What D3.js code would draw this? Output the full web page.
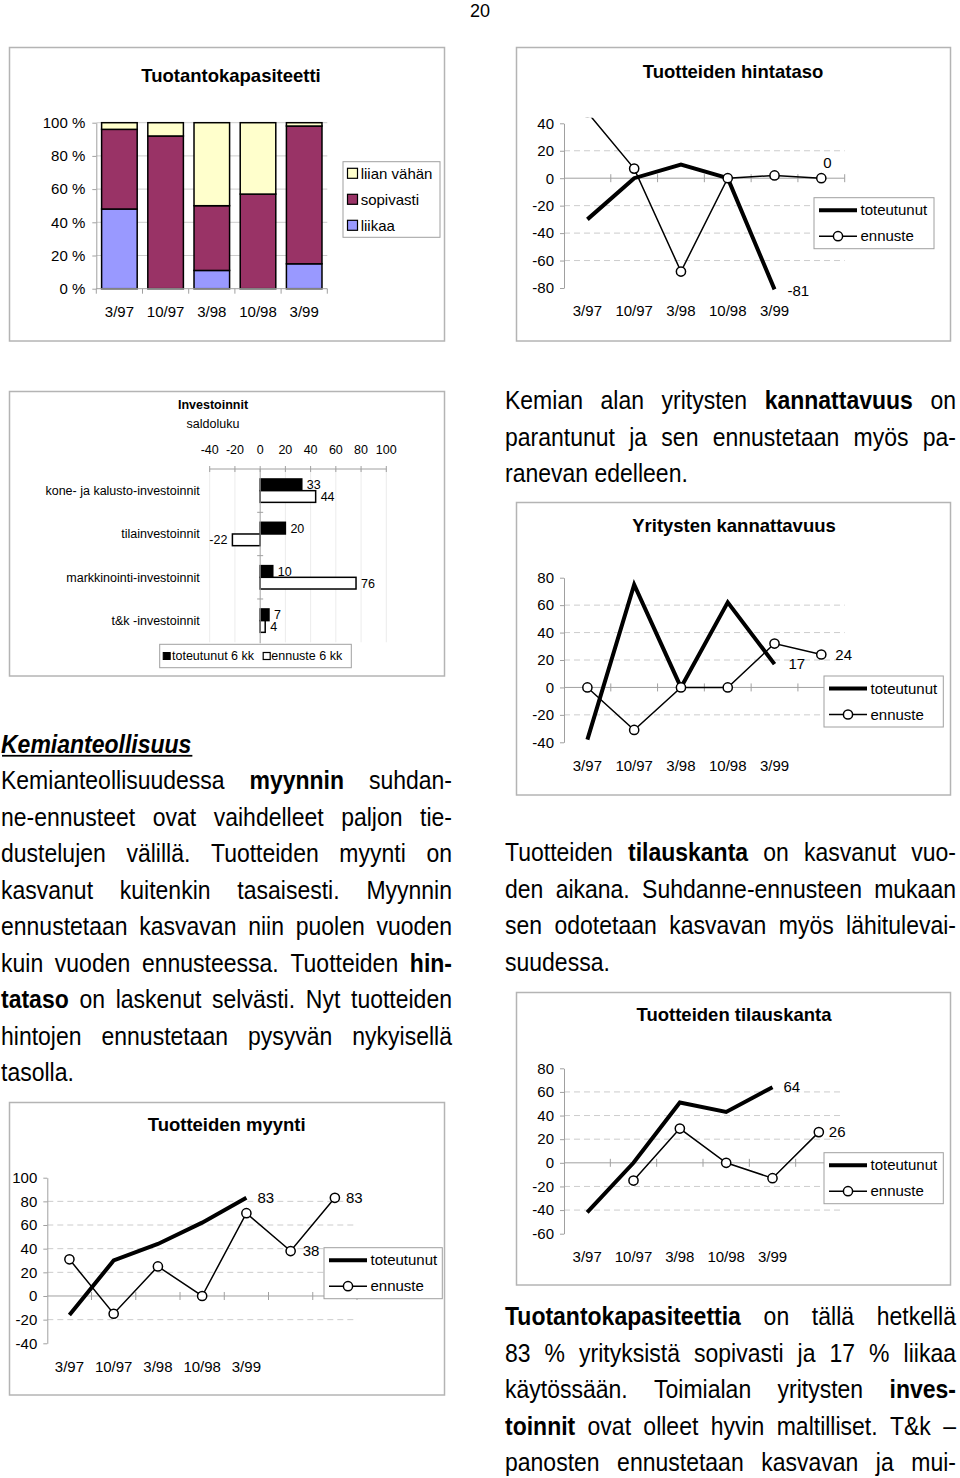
<!DOCTYPE html>
<html><head><meta charset="utf-8">
<script src="https://cdn.jsdelivr.net/npm/d3@7"></script>
<style>
html,body{margin:0;padding:0;background:#fff;}
svg{display:block;font-family:"Liberation Sans",Arial,Helvetica,sans-serif;}
</style></head>
<body><svg id="page" width="960" height="1478"></svg>
<script>
// ================= DATA =================
const pageNumber = "20";
const periods = ["3/97","10/97","3/98","10/98","3/99"];

// Tuotantokapasiteetti (%)
const capKeys = ["liikaa","sopivasti","liian vähän"];
const capLiikaa     = [48, 0, 11, 0, 15];
const capSopivasti  = [48, 92, 39, 57, 83];
const capLiianVahan = [4, 8, 50, 43, 2];
const capTicks = [0,20,40,60,80,100];

// Tuotteiden hintataso
const hintaToteutunut = [-30, 0, 10, 0, -81, null];
const hintaEnnuste    = [48, 7, -68, 0, 2, 0];
const hintaTicks = [40,20,0,-20,-40,-60,-80];

// Yritysten kannattavuus
const kannToteutunut = [-38, 75, 0, 62, 17, null];
const kannEnnuste    = [0, -31, 0, 0, 32, 24];
const kannTicks = [80,60,40,20,0,-20,-40];

// Tuotteiden myynti
const myyntiToteutunut = [-16, 30, 44, 62, 83, null, null];
const myyntiEnnuste    = [31, -15, 25, 0, 70, 38, 83];
const myyntiTicks = [100,80,60,40,20,0,-20,-40];

// Tuotteiden tilauskanta
const tilausToteutunut = [-42, 0, 51, 43, 64, null];
const tilausEnnuste    = [null, -15, 29, 0, -13, 26];
const tilausTicks = [80,60,40,20,0,-20,-40,-60];

// Investoinnit (saldoluku)
const invCategories = ["kone- ja kalusto-investoinnit","tilainvestoinnit","markkinointi-investoinnit","t&k -investoinnit"];
const invToteutunut = [33, 20, 10, 7];
const invEnnuste    = [44, -22, 76, 4];
const invTicks = [-40,-20,0,20,40,60,80,100];

// Body text
const headingLeft = "Kemianteollisuus";
const paraLeft = [
 "Kemianteollisuudessa *myynnin suhdan-",
 "ne-ennusteet ovat vaihdelleet paljon tie-",
 "dustelujen välillä. Tuotteiden myynti on",
 "kasvanut kuitenkin tasaisesti. Myynnin",
 "ennustetaan kasvavan niin puolen vuoden",
 "kuin vuoden ennusteessa. Tuotteiden *hin-",
 "*tataso on laskenut selvästi. Nyt tuotteiden",
 "hintojen ennustetaan pysyvän nykyisellä",
 "tasolla."
];
const paraKann = [
 "Kemian alan yritysten *kannattavuus on",
 "parantunut ja sen ennustetaan myös pa-",
 "ranevan edelleen."
];
const paraTilaus = [
 "Tuotteiden *tilauskanta on kasvanut vuo-",
 "den aikana. Suhdanne-ennusteen mukaan",
 "sen odotetaan kasvavan myös lähitulevai-",
 "suudessa."
];
const paraKap = [
 "*Tuotantokapasiteettia on tällä hetkellä",
 "83 % yrityksistä sopivasti ja 17 % liikaa",
 "käytössään. Toimialan yritysten *inves-",
 "*toinnit ovat olleet hyvin maltilliset. T&k –",
 "panosten ennustetaan kasvavan ja mui-"
];

// ================= DRAWING =================
const svg = d3.select("#page");
svg.append("rect").attr("width",960).attr("height",1478).attr("fill","#fff");
const BORDER = "#b4b4b4", AXIS = "#a0a0a0", GRID = "#cccccc";

svg.append("text").attr("x",480).attr("y",17).attr("text-anchor","middle")
  .attr("font-size",18).text(pageNumber);

function frame(g, b){
  g.append("rect").attr("x",b[0]).attr("y",b[1]).attr("width",b[2]).attr("height",b[3])
    .attr("fill","#fff").attr("stroke",BORDER).attr("stroke-width",1.5);
}
function styleAxis(a, dx, fs){
  a.attr("font-family",null).attr("font-size",null);
  a.select(".domain").attr("stroke",AXIS);
  a.selectAll(".tick line").attr("stroke",AXIS);
  a.selectAll(".tick text").attr("x",dx).attr("font-size",fs).attr("fill","#000");
}

// ---------- stacked bar chart ----------
(function(){
  const g = svg.append("g");
  frame(g,[9.5,47.5,435,293.5]);
  g.append("text").attr("x",231).attr("y",81.5).attr("text-anchor","middle")
    .attr("font-weight","bold").attr("font-size",18.5).text("Tuotantokapasiteetti");
  const table = periods.map((p,i)=>({cat:p, "liikaa":capLiikaa[i], "sopivasti":capSopivasti[i], "liian vähän":capLiianVahan[i]}));
  const x = d3.scaleBand().domain(periods).range([96.3,327.3]).paddingInner(0.23).paddingOuter(0.115);
  const y = d3.scaleLinear().domain([0,100]).range([288.7,122.7]);
  const color = d3.scaleOrdinal().domain(capKeys).range(["#9999ff","#993366","#ffffcc"]);
  g.selectAll(".grid").data(capTicks.filter(t=>t>0)).join("line")
    .attr("x1",96.3).attr("x2",327.3).attr("y1",d=>y(d)).attr("y2",d=>y(d))
    .attr("stroke",GRID).attr("stroke-width",1);
  const ya = g.append("g").attr("transform","translate(96.3,0)")
    .call(d3.axisLeft(y).tickValues(capTicks).tickSize(4).tickSizeOuter(0).tickFormat(d=>d+" %"));
  styleAxis(ya,-11,15);
  const stack = d3.stack().keys(capKeys)(table);
  g.selectAll(".ser").data(stack).join("g").attr("fill",d=>color(d.key))
    .selectAll("rect").data(d=>d).join("rect")
    .attr("x",d=>x(d.data.cat)).attr("width",x.bandwidth())
    .attr("y",d=>y(d[1])).attr("height",d=>y(d[0])-y(d[1]))
    .attr("stroke","#000").attr("stroke-width",1.5)
    .style("display",d=>d[1]-d[0]>0?null:"none");
  g.append("line").attr("x1",96.3).attr("x2",327.3).attr("y1",y(0)).attr("y2",y(0)).attr("stroke",AXIS);
  g.selectAll(".xt").data(d3.range(periods.length+1)).join("line")
    .attr("x1",i=>96.3+i*x.step()).attr("x2",i=>96.3+i*x.step())
    .attr("y1",y(0)).attr("y2",y(0)+5).attr("stroke",AXIS);
  g.selectAll(".xl").data(periods).join("text")
    .attr("x",d=>x(d)+x.bandwidth()/2).attr("y",311.7).attr("dy","0.35em")
    .attr("text-anchor","middle").attr("font-size",15).text(d=>d);
  // legend
  const L = [343,161.7,97,75.6];
  g.append("rect").attr("x",L[0]).attr("y",L[1]).attr("width",L[2]).attr("height",L[3])
    .attr("fill","#fff").attr("stroke",AXIS);
  const order = capKeys.slice().reverse();
  order.forEach((k,i)=>{
    const cy = L[1]+11.6+i*26;
    g.append("rect").attr("x",L[0]+4.5).attr("y",cy-5).attr("width",10).attr("height",10)
      .attr("fill",color(k)).attr("stroke","#000").attr("stroke-width",1.2);
    g.append("text").attr("x",L[0]+17.7).attr("y",cy).attr("dy","0.35em").attr("font-size",15).text(k);
  });
})();

// ---------- line charts ----------
let clipId = 0;
function lineChart(c){
  const g = svg.append("g");
  frame(g,c.box);
  g.append("text").attr("x",c.titleX).attr("y",c.titleY).attr("dy","0.35em").attr("text-anchor","middle")
    .attr("font-weight","bold").attr("font-size",18.5).text(c.title);
  const n = c.tot.length;
  const x = d3.scaleBand().domain(d3.range(n)).range([c.axisX,c.plotRight]);
  const y = d3.scaleLinear().domain(c.yDomain).range(c.yRange);
  const cx = i => x(i)+x.bandwidth()/2;
  const [ymin,ymax] = c.yDomain;
  g.selectAll(".grid").data(c.ticks.filter(t=>t!==0&&t!==ymin&&t!==ymax)).join("line")
    .attr("x1",c.axisX).attr("x2",c.plotRight).attr("y1",d=>y(d)).attr("y2",d=>y(d))
    .attr("stroke",GRID).attr("stroke-dasharray","6,4");
  const ya = g.append("g").attr("transform",`translate(${c.axisX},0)`)
    .call(d3.axisLeft(y).tickValues(c.ticks).tickSize(4).tickSizeOuter(0).tickFormat(d=>String(d)));
  styleAxis(ya,-10,15);
  g.append("line").attr("x1",c.axisX).attr("x2",c.plotRight).attr("y1",y(0)).attr("y2",y(0)).attr("stroke",AXIS);
  g.selectAll(".xt").data(d3.range(1,n+1)).join("line")
    .attr("x1",i=>c.axisX+i*x.step()).attr("x2",i=>c.axisX+i*x.step())
    .attr("y1",y(0)-4).attr("y2",y(0)+4).attr("stroke",AXIS);
  g.selectAll(".xl").data(periods).join("text")
    .attr("x",(d,i)=>cx(i)).attr("y",c.yRange[0]+23).attr("dy","0.35em")
    .attr("text-anchor","middle").attr("font-size",15).text(d=>d);
  const id = "clip"+(clipId++);
  const clipTop = y(c.clipMax!==undefined?c.clipMax:ymax+10);
  g.append("clipPath").attr("id",id).append("rect")
    .attr("x",c.axisX-10).attr("y",clipTop).attr("width",c.plotRight-c.axisX+40).attr("height",c.yRange[0]-clipTop+20);
  const pg = g.append("g").attr("clip-path",`url(#${id})`);
  const line = d3.line().defined(d=>d!=null).x((d,i)=>cx(i)).y(d=>y(d));
  pg.append("path").datum(c.tot).attr("d",line).attr("fill","none")
    .attr("stroke","#000").attr("stroke-width",4).attr("stroke-linejoin","miter");
  pg.append("path").datum(c.enn).attr("d",line).attr("fill","none")
    .attr("stroke","#000").attr("stroke-width",1.5);
  pg.selectAll("circle").data(c.enn.map((v,i)=>({v,i})).filter(d=>d.v!=null)).join("circle")
    .attr("cx",d=>cx(d.i)).attr("cy",d=>y(d.v)).attr("r",4.6)
    .attr("fill","#fff").attr("stroke","#000").attr("stroke-width",1.5);
  c.valueLabels.forEach(l=>{
    const v = (l.s==="tot"?c.tot:c.enn)[l.i];
    g.append("text").attr("x",cx(l.i)+l.dx).attr("y",y(v)+l.dy).attr("dy","0.35em")
      .attr("font-size",15).text(v);
  });
  const L = c.legend;
  g.append("rect").attr("x",L[0]).attr("y",L[1]).attr("width",L[2]).attr("height",51)
    .attr("fill","#fff").attr("stroke",AXIS);
  const y1 = L[1]+12.5, y2 = L[1]+38.5;
  g.append("line").attr("x1",L[0]+5).attr("x2",L[0]+43).attr("y1",y1).attr("y2",y1).attr("stroke","#000").attr("stroke-width",4);
  g.append("line").attr("x1",L[0]+5).attr("x2",L[0]+43).attr("y1",y2).attr("y2",y2).attr("stroke","#000").attr("stroke-width",1.5);
  g.append("circle").attr("cx",L[0]+24).attr("cy",y2).attr("r",4.6).attr("fill","#fff").attr("stroke","#000").attr("stroke-width",1.5);
  g.append("text").attr("x",L[0]+46.5).attr("y",y1).attr("dy","0.35em").attr("font-size",15).text("toteutunut");
  g.append("text").attr("x",L[0]+46.5).attr("y",y2).attr("dy","0.35em").attr("font-size",15).text("ennuste");
}

lineChart({box:[516.5,47.5,434,293.5], title:"Tuotteiden hintataso", titleX:733, titleY:72,
  axisX:564, plotRight:844.7, yDomain:[-80,40], yRange:[288,123.3], ticks:hintaTicks, clipMax:44,
  tot:hintaToteutunut, enn:hintaEnnuste,
  valueLabels:[{s:"tot",i:4,dx:13,dy:1},{s:"enn",i:5,dx:2,dy:-15}],
  legend:[814,197.7,120]});

lineChart({box:[516.5,502.5,434,292.5], title:"Yritysten kannattavuus", titleX:734, titleY:526,
  axisX:564, plotRight:844.7, yDomain:[-40,80], yRange:[742.3,577.7], ticks:kannTicks,
  tot:kannToteutunut, enn:kannEnnuste,
  valueLabels:[{s:"tot",i:4,dx:14,dy:0},{s:"enn",i:5,dx:14,dy:0}],
  legend:[824,676,119.3]});

lineChart({box:[9.5,1102.5,435,292.5], title:"Tuotteiden myynti", titleX:226.7, titleY:1125,
  axisX:47.3, plotRight:357, yDomain:[-40,100], yRange:[1343.3,1177.7], ticks:myyntiTicks,
  tot:myyntiToteutunut, enn:myyntiEnnuste,
  valueLabels:[{s:"tot",i:4,dx:11,dy:0},{s:"enn",i:5,dx:12,dy:0},{s:"enn",i:6,dx:11,dy:0}],
  legend:[324,1247.7,118.3]});

lineChart({box:[516.5,992.5,434,292.5], title:"Tuotteiden tilauskanta", titleX:734, titleY:1015,
  axisX:564, plotRight:842, yDomain:[-60,80], yRange:[1233.7,1068.3], ticks:tilausTicks,
  tot:tilausToteutunut, enn:tilausEnnuste,
  valueLabels:[{s:"tot",i:4,dx:11,dy:0},{s:"enn",i:5,dx:10,dy:0}],
  legend:[824,1152.7,119.3]});

// ---------- Investoinnit horizontal bars ----------
(function(){
  const g = svg.append("g");
  frame(g,[9.5,391.5,435,284.5]);
  g.append("text").attr("x",213).attr("y",405).attr("dy","0.35em").attr("text-anchor","middle")
    .attr("font-weight","bold").attr("font-size",12.5).text("Investoinnit");
  g.append("text").attr("x",213).attr("y",423.3).attr("dy","0.35em").attr("text-anchor","middle")
    .attr("font-size",12.5).text("saldoluku");
  const x = d3.scaleLinear().domain([-40,100]).range([209.7,386.3]);
  const y = d3.scaleBand().domain(invCategories).range([469,642.3]).paddingInner(0.46).paddingOuter(0.23);
  const full = d3.scaleBand().domain(invCategories).range([469,642.3]);
  const sub = d3.scaleBand().domain(["tot","enn"]).range([0,y.bandwidth()]);
  g.selectAll(".vg").data(invTicks.filter(t=>t!==0)).join("line")
    .attr("x1",d=>x(d)).attr("x2",d=>x(d)).attr("y1",469).attr("y2",642.3)
    .attr("stroke","#ececec");
  g.append("line").attr("x1",x(-40)).attr("x2",x(100)).attr("y1",469).attr("y2",469).attr("stroke",AXIS);
  g.selectAll(".xt").data(invTicks).join("line")
    .attr("x1",d=>x(d)).attr("x2",d=>x(d)).attr("y1",466).attr("y2",472).attr("stroke",AXIS);
  g.selectAll(".xl").data(invTicks).join("text")
    .attr("x",d=>x(d)).attr("y",450).attr("dy","0.35em").attr("text-anchor","middle")
    .attr("font-size",12.5).text(d=>String(d));
  g.selectAll(".cl").data(invCategories).join("text")
    .attr("x",199.7).attr("y",d=>full(d)+full.bandwidth()/2).attr("dy","0.35em")
    .attr("text-anchor","end").attr("font-size",12.5).text(d=>d);
  const rows = invCategories.map((c,i)=>({c, tot:invToteutunut[i], enn:invEnnuste[i]}));
  rows.forEach(r=>{
    ["tot","enn"].forEach(s=>{
      const v = r[s];
      const yy = y(r.c)+sub(s);
      g.append("rect").attr("x",x(Math.min(0,v))).attr("width",Math.abs(x(v)-x(0)))
        .attr("y",yy).attr("height",sub.bandwidth())
        .attr("fill",s==="tot"?"#000":"#fff").attr("stroke","#000").attr("stroke-width",1.5);
      g.append("text").attr("x",v>=0?x(v)+5:x(v)-5).attr("y",yy+sub.bandwidth()/2).attr("dy","0.35em")
        .attr("text-anchor",v>=0?"start":"end").attr("font-size",12.5).text(v);
    });
  });
  g.append("line").attr("x1",x(0)).attr("x2",x(0)).attr("y1",469).attr("y2",643.3).attr("stroke",AXIS);
  g.selectAll(".yt").data(d3.range(1,invCategories.length)).join("line")
    .attr("x1",x(0)-3).attr("x2",x(0)+3)
    .attr("y1",i=>469+i*full.step()).attr("y2",i=>469+i*full.step()).attr("stroke",AXIS);
  const L=[159.7,644.3,191.6,23.4];
  g.append("rect").attr("x",L[0]).attr("y",L[1]).attr("width",L[2]).attr("height",L[3]).attr("fill","#fff").attr("stroke",AXIS);
  const cy = L[1]+L[3]/2;
  g.append("rect").attr("x",L[0]+3.5).attr("y",cy-3.5).attr("width",7).attr("height",7).attr("fill","#000").attr("stroke","#000");
  g.append("text").attr("x",L[0]+12.3).attr("y",cy).attr("dy","0.35em").attr("font-size",12.5).text("toteutunut 6 kk");
  g.append("rect").attr("x",L[0]+103.5).attr("y",cy-3.5).attr("width",7).attr("height",7).attr("fill","#fff").attr("stroke","#000").attr("stroke-width",1.2);
  g.append("text").attr("x",L[0]+111.6).attr("y",cy).attr("dy","0.35em").attr("font-size",12.5).text("ennuste 6 kk");
})();

// ---------- body text ----------
const FS = 23, SY = 1.09, LH = 36.5;
function paragraph(lines, x0, width, base0, continues){
  lines.forEach((ln,li)=>{
    const g = svg.append("g").attr("transform",`translate(${x0},${base0+li*LH}) scale(1,${SY})`);
    const words = ln.split(" ").filter(w=>w.length);
    const nodes = words.map(w=>{
      const b = w.startsWith("*");
      return g.append("text").attr("font-size",FS).attr("font-weight",b?"bold":"normal").text(b?w.slice(1):w);
    });
    const widths = nodes.map(n=>n.node().getComputedTextLength());
    const total = d3.sum(widths);
    const last = li===lines.length-1 && !continues;
    const gap = (!last && words.length>1) ? (width-total)/(words.length-1) : FS*0.278;
    let px = 0;
    nodes.forEach((n,i)=>{ n.attr("x",px); px += widths[i]+gap; });
  });
}
(function(){
  const g = svg.append("g").attr("transform",`translate(1,${789-LH}) scale(1,${SY})`);
  const t = g.append("text").attr("font-size",FS).attr("font-weight","bold").attr("font-style","italic").text(headingLeft);
  const w = t.node().getComputedTextLength();
  g.append("rect").attr("x",1).attr("y",2.2).attr("width",w).attr("height",1.6).attr("fill","#000");
})();
paragraph(paraLeft, 1, 451, 789, false);
paragraph(paraKann, 505, 451, 409, false);
paragraph(paraTilaus, 505, 451, 861, false);
paragraph(paraKap, 505, 451, 1325, true);
</script></body></html>
